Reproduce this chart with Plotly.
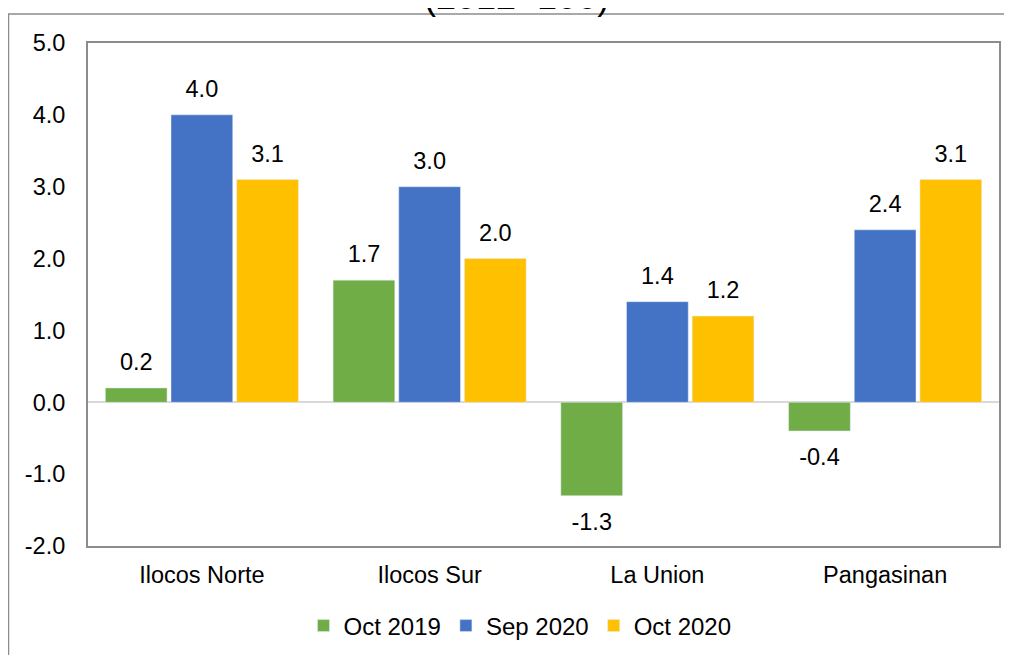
import plotly.graph_objects as go

categories = ["Ilocos Norte", "Ilocos Sur", "La Union", "Pangasinan"]
oct2019 = [0.2, 1.7, -1.3, -0.4]
sep2020 = [4.0, 3.0, 1.4, 2.4]
oct2020 = [3.1, 2.0, 1.2, 3.1]
series = [("Oct 2019", oct2019, "#70AD47"),
          ("Sep 2020", sep2020, "#4472C4"),
          ("Oct 2020", oct2020, "#FFC000")]
yticks = [-2, -1, 0, 1, 2, 3, 4, 5]

FS = 23.5
SPACER_POS = 10   # size of the small spacer line (controls label gap)
SPACER_NEG = 14


def label(v):
    big = f"<span style='font-size:{FS}px'>{v:.1f}</span>"
    dot = "<span style='color:rgba(0,0,0,0)'>.</span>"
    return f"{big}<br>{dot}" if v >= 0 else f"{dot}<br>{big}"


fig = go.Figure()
for name, vals, col in series:
    fig.add_trace(go.Bar(
        x=categories, y=vals, name=name, marker_color=col,
        text=[label(v) for v in vals], textposition="outside",
        textfont=dict(size=[SPACER_POS if v >= 0 else SPACER_NEG for v in vals],
                      color="#000000"),
        cliponaxis=False, constraintext="none",
    ))

# page is offset by the 8px body margin; coordinates below are figure pixels
L, R, T, B = 80, 21, 35, 117
W, H = 1012, 655
pw, ph = W - L - R, H - T - B

def px(x):
    return (x - L) / pw

def py(y):
    return (H - B - y) / ph

fig.update_layout(
    width=W, height=H,
    margin=dict(l=L, r=R, t=T, b=B),
    paper_bgcolor="white", plot_bgcolor="white",
    font=dict(family="Liberation Sans, Arial, sans-serif", size=FS, color="#000000"),
    barmode="group", bargap=0.135, bargroupgap=0.06,
    showlegend=True,
    legend=dict(orientation="h", x=px(512), xanchor="center", y=py(618), yanchor="middle",
                font=dict(size=24), traceorder="normal", itemwidth=30),
    xaxis=dict(showline=True, mirror=True, linecolor="#8c8c8c", linewidth=2,
               ticks="", showgrid=False, tickfont=dict(size=FS), ticklabelstandoff=7),
    yaxis=dict(range=[-2, 5], tickvals=yticks, ticktext=[f"{v:.1f}" for v in yticks],
               showline=True, mirror=True, linecolor="#8c8c8c", linewidth=2,
               showgrid=False, zeroline=True, zerolinecolor="#d9d9d9", zerolinewidth=1.5,
               ticks="", tickfont=dict(size=FS), ticklabelstandoff=16),
    shapes=[
        dict(type="line", xref="paper", yref="paper", x0=px(0), x1=px(1020), y0=py(6), y1=py(6),
             line=dict(color="#8c8c8c", width=1.5)),
        dict(type="line", xref="paper", yref="paper", x0=px(0.5), x1=px(0.5), y0=py(6), y1=py(660),
             line=dict(color="#8c8c8c", width=1.5)),
    ],
    annotations=[
        dict(text="(2012=100)", xref="paper", yref="paper", x=px(508), y=py(11),
             xanchor="center", yanchor="bottom", showarrow=False,
             font=dict(size=36, color="#000000")),
    ],
)

fig.write_html("out.html")
